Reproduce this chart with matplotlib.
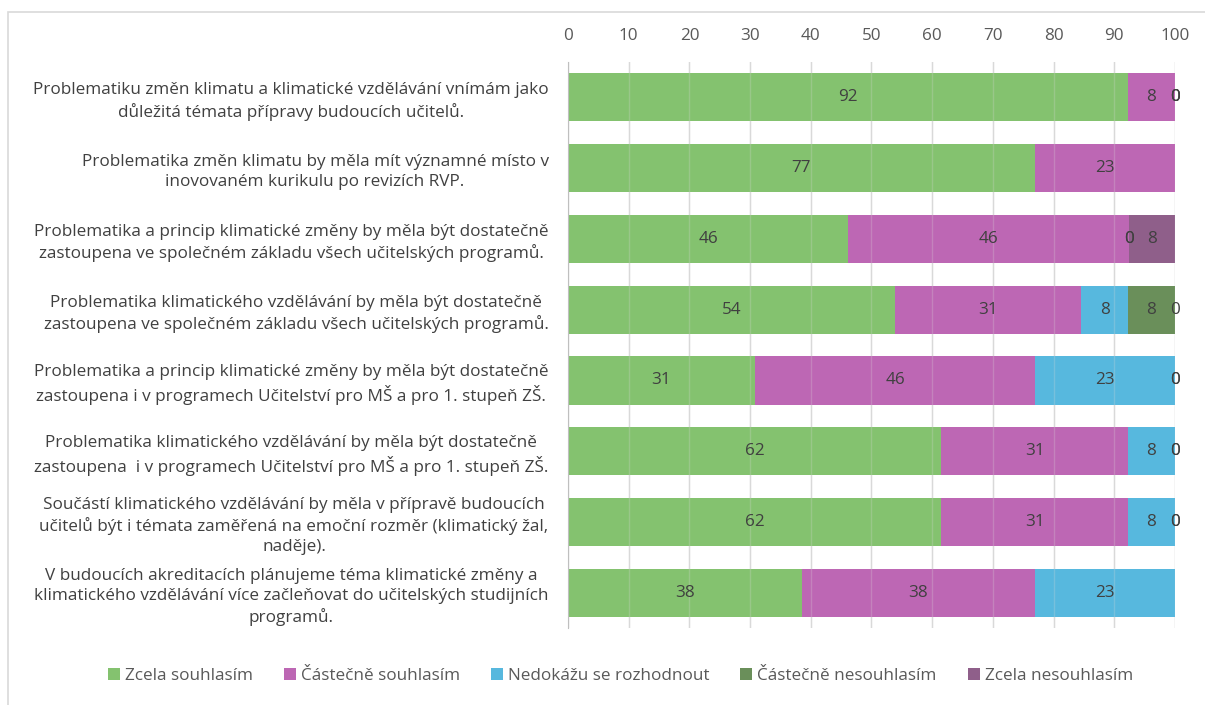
import numpy as np
import matplotlib
matplotlib.use("Agg")
import matplotlib.pyplot as plt
from matplotlib.patches import Rectangle

plt.rcParams['font.family'] = ['Open Sans', 'DejaVu Sans']

# statements (y categories), top to bottom
statements = [
    "Problematiku změn klimatu a klimatické vzdělávání vnímám jako\ndůležitá témata přípravy budoucích učitelů.",
    "Problematika změn klimatu by měla mít významné místo v\ninovovaném kurikulu po revizích RVP.",
    "Problematika a princip klimatické změny by měla být dostatečně\nzastoupena ve společném základu všech učitelských programů.",
    "Problematika klimatického vzdělávání by měla být dostatečně\nzastoupena ve společném základu všech učitelských programů.",
    "Problematika a princip klimatické změny by měla být dostatečně\nzastoupena i v programech Učitelství pro MŠ a pro 1. stupeň ZŠ.",
    "Problematika klimatického vzdělávání by měla být dostatečně\nzastoupena  i v programech Učitelství pro MŠ a pro 1. stupeň ZŠ.",
    "Součástí klimatického vzdělávání by měla v přípravě budoucích\nučitelů být i témata zaměřená na emoční rozměr (klimatický žal,\nnaděje).",
    "V budoucích akreditacích plánujeme téma klimatické změny a\nklimatického vzdělávání více začleňovat do učitelských studijních\nprogramů.",
]

series_names = ["Zcela souhlasím", "Částečně souhlasím", "Nedokážu se rozhodnout",
                "Částečně nesouhlasím", "Zcela nesouhlasím"]

nan = np.nan
zcela_souhlasim      = [92.3, 76.9, 46.2, 53.8, 30.8, 61.5, 61.5, 38.5]
castecne_souhlasim   = [7.7, 23.1, 46.2, 30.8, 46.2, 30.8, 30.8, 38.5]
nedokazu             = [0, nan, 0, 7.7, 23.1, 7.7, 7.7, 23.1]
castecne_nesouhlasim = [0, nan, 0, 7.7, 0, 0, 0, nan]
zcela_nesouhlasim    = [0, nan, 7.7, 0, 0, 0, 0, nan]

series = [zcela_souhlasim, castecne_souhlasim, nedokazu,
          castecne_nesouhlasim, zcela_nesouhlasim]
colors = ["#84C26F", "#BD67B4", "#57B8DE", "#6A8F5A", "#8F5F8A"]

text_col = "#404040"

fig = plt.figure(figsize=(12.05, 7.05), dpi=100)
ax = fig.add_axes([0.4714, 0.109, 0.5036, 0.803])

# light border around the chart area
fig.patches.append(Rectangle((8 / 1205, -0.01), 1.02, 1 - 12 / 705 + 0.01,
                             transform=fig.transFigure, fill=False,
                             edgecolor="#D9D9D9", lw=1.2))

y = np.arange(len(statements))
left = np.zeros(len(statements))
for name, vals, col in zip(series_names, series, colors):
    vals = np.array(vals, dtype=float)
    w = np.nan_to_num(vals)
    ax.barh(y, w, left=left, height=0.68, color=col, label=name, zorder=2)
    for i, v in enumerate(vals):
        if np.isnan(v):
            continue
        ax.text(left[i] + w[i] / 2, y[i], f"{v:.0f}", ha="center", va="center",
                fontsize=12.3, color=text_col, zorder=4)
    left += w

ax.set_xlim(0, 100)
ax.set_ylim(len(statements) - 0.5, -0.5)
ax.set_xticks(range(0, 101, 10))
ax.xaxis.tick_top()
ax.tick_params(axis="x", length=0, pad=13, labelsize=12.3, labelcolor="#595959")
ax.set_yticks(y)
ax.set_yticklabels(statements, ha="right", multialignment="center",
                   fontsize=12.3, color=text_col, linespacing=1.3)
ax.tick_params(axis="y", length=0, pad=14)

# grid behind bars, and a faint copy on top like the source
ax.grid(axis="x", color="#D9D9D9", lw=1, zorder=1)
ax.set_axisbelow(True)
for xv in range(10, 101, 10):
    ax.axvline(xv, color="#D9D9D9", lw=1, alpha=0.25, zorder=3)
for s in ["top", "right", "bottom"]:
    ax.spines[s].set_visible(False)
ax.spines["left"].set_color("#BFBFBF")
ax.spines["left"].set_zorder(5)

fig.legend(loc="center", bbox_to_anchor=(0.515, 1 - 676 / 705), ncol=5,
           frameon=False, fontsize=12.3, handlelength=0.7, handleheight=0.7,
           handletextpad=0.3, columnspacing=1.8, labelcolor="#595959")

fig.savefig("out.png", dpi=100)
